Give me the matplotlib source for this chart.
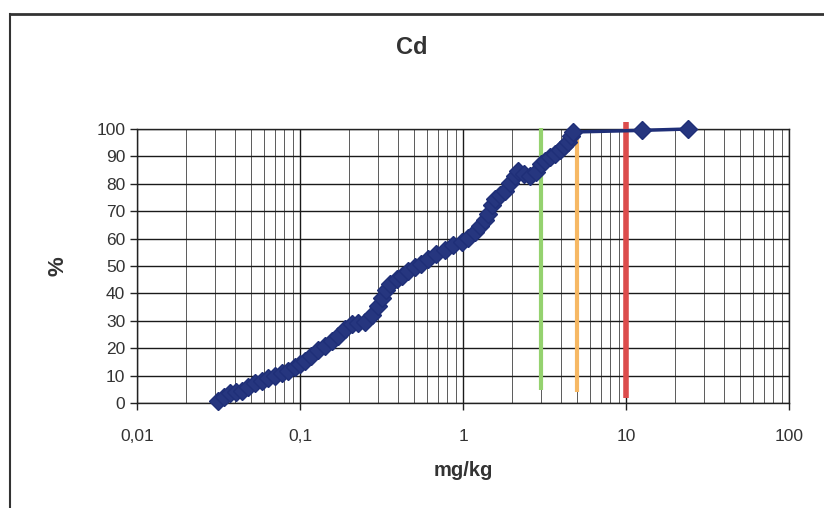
import matplotlib
matplotlib.use("Agg")
import matplotlib.pyplot as plt
from matplotlib.ticker import LogLocator, FixedLocator, NullFormatter
from matplotlib.lines import Line2D

# Cd concentrations (mg/kg) and cumulative share of samples (%)
cd_mgkg = [0.0314, 0.0342, 0.0372, 0.0405, 0.0441, 0.048, 0.053, 0.0585, 0.0636, 0.0703,
           0.0776, 0.0844, 0.0931, 0.100, 0.107, 0.117, 0.129, 0.142, 0.157, 0.171,
           0.189, 0.208, 0.227, 0.251, 0.277, 0.301, 0.318, 0.337, 0.357, 0.394,
           0.423, 0.460, 0.508, 0.553, 0.610, 0.683, 0.776, 0.869, 0.986, 1.07,
           1.19, 1.27, 1.36, 1.42, 1.51, 1.57, 1.69, 1.81, 1.94, 2.08,
           2.17, 2.37, 2.58, 2.81, 3.01, 3.18, 3.42, 3.66, 3.94, 4.17,
           4.41, 4.60, 4.73, 12.5, 24.0]
cd_pct = [0.7, 2.2, 3.7, 4.0, 4.4, 5.9, 7.3, 8.1, 9.2, 9.9,
          11.0, 11.7, 13.2, 14.3, 15.4, 17.2, 19.4, 20.9, 22.7, 24.5,
          27.1, 28.9, 29.3, 29.7, 32.2, 35.5, 38.5, 41.4, 43.6, 45.1,
          46.2, 48.0, 49.5, 50.9, 52.4, 54.2, 56.0, 57.5, 58.6, 60.4,
          62.3, 64.5, 66.7, 68.9, 72.2, 74.4, 75.8, 77.3, 80.2, 82.8,
          84.6, 83.5, 82.8, 84.2, 87.2, 88.3, 89.7, 90.8, 92.3, 93.8,
          95.2, 97.4, 98.9, 99.5, 100.0]

# guideline values drawn as vertical bars
limit_values = [3.0, 5.0, 10.0]
limit_bottom = [4.7, 4.0, 1.8]
limit_top = [100.4, 98.0, 102.5]
limit_colors = ["#95d26f", "#f6b864", "#dc4c4c"]
limit_widths = [3.0, 3.0, 4.0]

xticks = [0.01, 0.1, 1, 10, 100]
xtick_labels = ["0,01", "0,1", "1", "10", "100"]
yticks = [0, 10, 20, 30, 40, 50, 60, 70, 80, 90, 100]

plt.rcParams["font.family"] = ["Liberation Sans", "DejaVu Sans"]

fig = plt.figure(figsize=(8.24, 5.08), dpi=100)
ax = fig.add_axes([137 / 824, 1 - 403 / 508, (789 - 137) / 824, (403 - 129) / 508])

ax.set_xscale("log")
ax.set_xlim(0.01, 100)
ax.set_ylim(0, 100)

ax.xaxis.set_major_locator(FixedLocator(xticks))
ax.set_xticklabels(xtick_labels)
ax.xaxis.set_minor_locator(LogLocator(base=10, subs=[2, 3, 4, 5, 6, 7, 8, 9], numticks=20))
ax.xaxis.set_minor_formatter(NullFormatter())
ax.set_yticks(yticks)

ax.grid(True, which="major", axis="both", color="#1a1a1a", linewidth=1.0)
ax.grid(True, which="minor", axis="x", color="#5a5a5a", linewidth=0.7)
ax.set_axisbelow(True)

ax.tick_params(axis="both", which="major", direction="out", length=5, width=1,
               color="#222222", labelsize=12.5, labelcolor="#333333")
ax.tick_params(axis="x", which="minor", length=0)
ax.tick_params(axis="x", which="major", pad=14)
for s in ax.spines.values():
    s.set_color("#222222")
    s.set_linewidth(1.0)

for v, lo, hi, c, w in zip(limit_values, limit_bottom, limit_top, limit_colors, limit_widths):
    ax.plot([v, v], [lo, hi], color=c, linewidth=w, solid_capstyle="butt", clip_on=False, zorder=3)

ax.plot(cd_mgkg, cd_pct, color="#1f2f78", linewidth=2.5, marker="D", markersize=9,
        markerfacecolor="#26367f", markeredgecolor="#1f2f78", clip_on=False, zorder=4)

# chart title sits in the middle of the whole chart, not over the plot area
fig.text(0.5, 1 - 48 / 508, "Cd", fontsize=17, fontweight="bold", color="#333333",
         ha="center", va="center")
ax.set_xlabel("mg/kg", fontsize=14.5, fontweight="bold", color="#333333", labelpad=12)
ax.set_ylabel("%", fontsize=16, fontweight="bold", color="#333333", labelpad=20)

# outer chart frame (left and top edges)
fig.add_artist(Line2D([10 / 824, 10 / 824], [0, 1 - 14 / 508], color="#333333", linewidth=1.5))
fig.add_artist(Line2D([10 / 824, 1], [1 - 14 / 508, 1 - 14 / 508], color="#333333", linewidth=2))

fig.savefig("out.png", dpi=100)
